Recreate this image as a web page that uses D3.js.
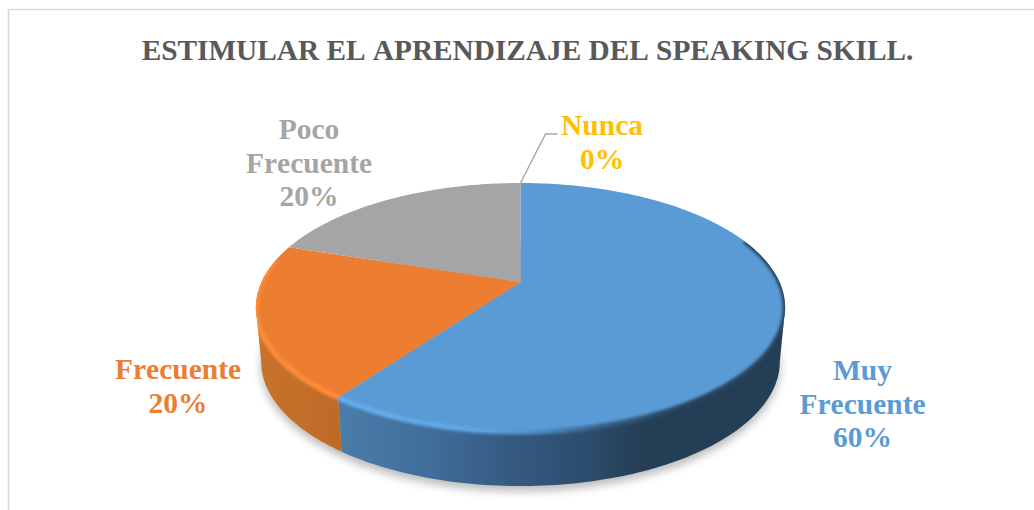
<!doctype html>
<html lang="es">
<head>
<meta charset="utf-8">
<title>Estimular el aprendizaje del speaking skill</title>
<script src="https://cdn.jsdelivr.net/npm/d3@7"></script>
<style>
  html, body { margin: 0; padding: 0; background: #fff; }
  svg { display: block; }
  text { font-family: "Liberation Serif", serif; font-weight: bold; font-kerning: none; }
</style>
</head>
<body>
<div id="chart"></div>
<script>
var titleText = "ESTIMULAR EL APRENDIZAJE DEL SPEAKING SKILL.";
var categories = ["Muy Frecuente", "Frecuente", "Poco Frecuente", "Nunca"];
var values = [60, 20, 20, 0];
var labelLines = [["Muy", "Frecuente", "60%"], ["Frecuente", "20%"], ["Poco", "Frecuente", "20%"], ["Nunca", "0%"]];
var colors = ["#5b9bd5", "#ed7d31", "#a5a5a5", "#ffc000"];

var width = 1034, height = 510;

// where the label blocks sit (centre x, first baseline y)
var labelAt = [[862.5, 380], [178, 379], [309, 139], [602, 135]];

// pie is a tilted disc, so the centre of the slices is above the middle of the ellipse
var cx = 520.5, cy = 282, a = 259, b = 119.3, k = 0.205, depth = 54, floorScale = 0.98;

// the wall only shows between the two widest points of the disc
var wallFrom = Math.PI - Math.acos(k), wallTo = Math.PI + Math.acos(k);

function project(angle, drop) {
  var u = Math.sin(angle), v = -Math.cos(angle), w = 1 - k * v;
  var shrink = drop ? floorScale : 1;
  return [cx + shrink * a * u / w, cy + b * v / w + (drop || 0)];
}

function arcPoints(a0, a1, drop) {
  var n = Math.max(2, Math.ceil(Math.abs(a1 - a0) / 0.02));
  return d3.range(n + 1).map(function(i) {
    return project(a0 + (a1 - a0) * i / n, drop);
  });
}

function wallPath(d) {
  var from = Math.max(d.startAngle, wallFrom),
      to = Math.min(d.endAngle, wallTo);
  var top = arcPoints(from, to, 0),
      bottom = arcPoints(to, from, depth);
  return line(top.concat(bottom)) + "Z";
}

var line = d3.line();

var slices = d3.pie().sort(null)(values);
var solid = slices.filter(function(d) { return d.value > 0; });
var walled = solid.filter(function(d) { return d.startAngle < wallTo && d.endAngle > wallFrom; });

var svg = d3.select("#chart").append("svg")
    .attr("width", width)
    .attr("height", height);

var defs = svg.append("defs");

defs.append("filter").attr("id", "shadowBlur")
    .attr("x", "-10%").attr("y", "-10%").attr("width", "120%").attr("height", "120%")
  .append("feGaussianBlur").attr("stdDeviation", 5);

defs.append("filter").attr("id", "rimBlur")
    .attr("x", "-5%").attr("y", "-5%").attr("width", "110%").attr("height", "110%")
  .append("feGaussianBlur").attr("stdDeviation", 1.6);

function gradient(id, stops) {
  var g = defs.append("linearGradient").attr("id", id)
      .attr("gradientUnits", "userSpaceOnUse")
      .attr("x1", 250).attr("x2", 790).attr("y1", 0).attr("y2", 0);
  stops.forEach(function(s) {
    g.append("stop").attr("offset", (s[0] - 250) / 540).attr("stop-color", s[1]);
  });
}

gradient("side0", [[340, "#4a7dab"], [430, "#406d99"], [520, "#34587f"], [590, "#2c4c6c"], [640, "#243e55"], [790, "#243e55"]]);
gradient("side1", [[255, "#c9722b"], [345, "#bd6a27"]]);
gradient("rim0", [[340, "#62b0f2"], [470, "#5fa8e8"], [540, "#4f8cc2"], [600, "#35608a"], [680, "#27435c"], [790, "#27435c"]]);
gradient("rim1", [[255, "#ff8d3a"], [345, "#ff8d3a"]]);

// rim highlight stays inside the disc and its wall
var bodyClip = defs.append("clipPath").attr("id", "bodyClip");
bodyClip.append("path").attr("d", line(arcPoints(0, 2 * Math.PI, 0)) + "Z");
bodyClip.selectAll("path.wall")
    .data(walled)
  .enter().append("path")
    .attr("class", "wall")
    .attr("d", wallPath);

// frame of the picture
svg.append("path")
    .attr("d", "M8.5," + height + "V9.5H" + width)
    .attr("fill", "none")
    .attr("stroke", "#d9d9d9")
    .attr("stroke-width", 1.5);

svg.append("text")
    .attr("x", 527.5)
    .attr("y", 60)
    .attr("text-anchor", "middle")
    .attr("font-size", 29.3)
    .attr("fill", "#595959")
    .text(titleText);

// soft shadow under the disc
svg.append("path")
    .attr("d", line(arcPoints(0, 2 * Math.PI, depth + 5)) + "Z")
    .attr("fill", "#000")
    .attr("opacity", 0.28)
    .attr("filter", "url(#shadowBlur)");

// side wall of each slice
svg.append("g").selectAll("path")
    .data(walled)
  .enter().append("path")
    .attr("d", wallPath)
    .attr("fill", function(d) { return "url(#side" + d.index + ")"; });

// top faces
svg.append("g").selectAll("path")
    .data(solid)
  .enter().append("path")
    .attr("d", function(d) {
      return line([[cx, cy]].concat(arcPoints(d.startAngle, d.endAngle, 0))) + "Z";
    })
    .attr("fill", function(d) { return colors[d.index]; });

// bevel along the front of the top face
svg.append("g").attr("clip-path", "url(#bodyClip)").selectAll("path")
    .data(solid.filter(function(d) { return d.index < 2; }))
  .enter().append("path")
    .attr("d", function(d) {
      var start = d.index === 0 ? Math.PI * 0.38 : d.startAngle;
      return line(arcPoints(start, d.endAngle - (d.index === 1 ? 0.12 : 0), 0));
    })
    .attr("fill", "none")
    .attr("stroke", function(d) { return "url(#rim" + d.index + ")"; })
    .attr("stroke-width", 5)
    .attr("filter", "url(#rimBlur)");

// leader for the empty slice
var nunca = slices[3], leaderStart = project(nunca.startAngle, 0);
svg.append("path")
    .attr("d", line([leaderStart, [leaderStart[0] + 25, 134], [leaderStart[0] + 37, 134]]))
    .attr("fill", "none")
    .attr("stroke", "#a6a6a6")
    .attr("stroke-width", 1.4);

// data labels
var labels = svg.append("g").selectAll("text")
    .data(labelLines)
  .enter().append("text")
    .attr("aria-label", function(d, i) { return categories[i]; })
    .attr("text-anchor", "middle")
    .attr("font-size", 29.5)
    .attr("fill", function(d, i) { return colors[i]; });

labels.selectAll("tspan")
    .data(function(d, i) { return d.map(function(t) { return {text: t, at: labelAt[i]}; }); })
  .enter().append("tspan")
    .attr("x", function(d) { return d.at[0]; })
    .attr("y", function(d, i) { return d.at[1] + i * 33.5; })
    .text(function(d) { return d.text; });
</script>
</body>
</html>
